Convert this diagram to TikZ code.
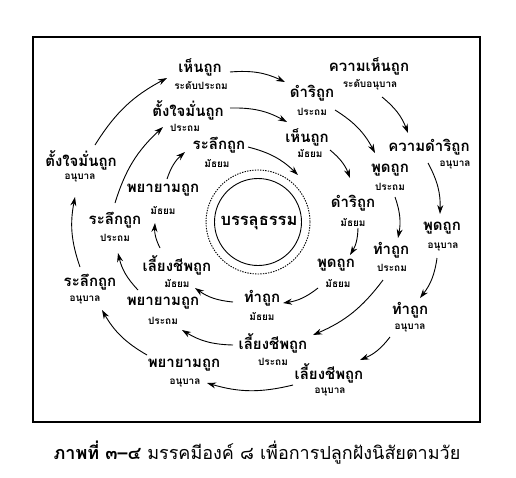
\documentclass[tikz,border=0pt]{standalone}
\usepackage{fontspec}
\newfontfamily\thai[Script=Thai]{Loma}
\usetikzlibrary{arrows.meta,calc}
\begin{document}
\begin{tikzpicture}[x=1pt,y=-1pt,
  mainlbl/.style={font=\thai\bfseries\fontsize{15}{17}\selectfont, inner sep=0pt},
  sublbl/.style={font=\thai\bfseries\fontsize{10}{12}\selectfont, inner sep=0pt},
  arr/.style={-{Stealth[length=9pt,width=6pt]}, line width=0.9pt, bend left=15}]
\useasboundingbox (0,0) rectangle (516,477);
\draw[line width=1.2pt] (33,37) rectangle (480,422);
% centre
\node[mainlbl, font=\thai\bfseries\fontsize{16.5}{18}\selectfont] (c) at (259,223) {บรรลุธรรม};
\draw[line width=0.9pt] (c) ++(-1,-1) circle[radius=43.5];
\draw[line width=0.9pt, dash pattern=on 1.4pt off 1.2pt] (c) ++(-1,-1) circle[radius=52];
% outer ring
\node[mainlbl] (a1) at (369,66) {ความเห็นถูก};   \node[sublbl] (a1s) at (370,85) {ระดับอนุบาล};
\node[mainlbl] (a2) at (429,147) {ความดำริถูก};  \node[sublbl] (a2s) at (455,165) {อนุบาล};
\node[mainlbl] (a3) at (442,228) {พูดถูก};        \node[sublbl] (a3s) at (443,247) {อนุบาล};
\node[mainlbl] (a4) at (410,310) {ทำถูก};         \node[sublbl] (a4s) at (410,328) {อนุบาล};
\node[mainlbl] (a5) at (329,373) {เลี้ยงชีพถูก};   \node[sublbl] (a5s) at (330,392) {อนุบาล};
\node[mainlbl] (a6) at (184,365) {พยายามถูก};     \node[sublbl] (a6s) at (185,383) {อนุบาล};
\node[mainlbl] (a7) at (90,282) {ระลึกถูก};        \node[sublbl] (a7s) at (85,300) {อนุบาล};
\node[mainlbl] (a8) at (81,160) {ตั้งใจมั่นถูก};   \node[sublbl] (a8s) at (80,178) {อนุบาล};
% middle ring
\node[mainlbl] (p1) at (200,67) {เห็นถูก};         \node[sublbl] (p1s) at (201,85) {ระดับประถม};
\node[mainlbl] (p2) at (312,93) {ดำริถูก};         \node[sublbl] (p2s) at (312,112) {ประถม};
\node[mainlbl] (p3) at (390,170) {พูดถูก};         \node[sublbl] (p3s) at (390,187) {ประถม};
\node[mainlbl] (p4) at (391,250) {ทำถูก};          \node[sublbl] (p4s) at (392,268) {ประถม};
\node[mainlbl] (p5) at (273,343) {เลี้ยงชีพถูก};    \node[sublbl] (p5s) at (273,362) {ประถม};
\node[mainlbl] (p6) at (163,303) {พยายามถูก};      \node[sublbl] (p6s) at (163,321) {ประถม};
\node[mainlbl] (p7) at (115,220) {ระลึกถูก};        \node[sublbl] (p7s) at (115,238) {ประถม};
\node[mainlbl] (p8) at (188,110) {ตั้งใจมั่นถูก};   \node[sublbl] (p8s) at (185,128) {ประถม};
% inner ring
\node[mainlbl] (m1) at (307,137) {เห็นถูก};         \node[sublbl] (m1s) at (310,153) {มัธยม};
\node[mainlbl] (m2) at (353,203) {ดำริถูก};         \node[sublbl] (m2s) at (353,222) {มัธยม};
\node[mainlbl] (m3) at (336,265) {พูดถูก};          \node[sublbl] (m3s) at (338,283) {มัธยม};
\node[mainlbl] (m4) at (262,298) {ทำถูก};           \node[sublbl] (m4s) at (262,316) {มัธยม};
\node[mainlbl] (m5) at (177,265) {เลี้ยงชีพถูก};     \node[sublbl] (m5s) at (177,283) {มัธยม};
\node[mainlbl] (m6) at (163,190) {พยายามถูก};       \node[sublbl] (m6s) at (163,210) {มัธยม};
\node[mainlbl] (m7) at (219,145) {ระลึกถูก};         \node[sublbl] (m7s) at (217,163) {มัธยม};
% arrows outer
\draw[arr] ($(a1)+(13,31)$) to ($(a2)+(-21,-14)$);
\draw[arr] ($(a2)+(-1,16)$) to ($(a3)+(-2,-14)$);
\draw[arr] ($(a3)+(-5,30)$) to ($(a4)+(10,-12)$);
\draw[arr] ($(a4)+(-20,27)$) to ($(a5)+(31,-13)$);
\draw[arr] ($(a5)+(-36,12)$) to ($(a6)+(23,18)$);
\draw[arr] ($(a6)+(-37,-10)$) to ($(a7)+(12,28)$);
\draw[arr] ($(a7)+(-10,-15)$) to ($(a8)+(-6,37)$);
\draw[arr] ($(a8)+(14,-15)$) to ($(p1)+(-33,11)$);
% arrows middle
\draw[arr] ($(p1)+(30,5)$) to ($(p2)+(-27,-11)$);
\draw[arr] ($(p2)+(23,17)$) to ($(p3)+(-15,-17)$);
\draw[arr] ($(p3)+(5,27)$) to ($(p4)+(7,-12)$);
\draw[arr] ($(p4)+(-8,30)$) to ($(p5)+(40,-8)$);
\draw[arr] ($(p5)+(-40,2)$) to ($(p6)+(19,27)$);
\draw[arr] ($(p6)+(-25,-13)$) to ($(p7)+(3,33)$);
\draw[arr] ($(p7)+(0,-17)$) to ($(p8)+(-25,17)$);
\draw[arr] ($(p8)+(42,-2)$) to ($(m1)+(-20,-15)$);
% arrows inner
\draw[arr] ($(m1)+(23,13)$) to ($(m2)+(-3,-25)$);
\draw[arr] ($(m2)+(5,25)$) to ($(m3)+(14,-10)$);
\draw[arr] ($(m3)+(-18,23)$) to ($(m4)+(21,5)$);
\draw[arr] ($(m4)+(-29,4)$) to ($(m5)+(18,23)$);
\draw[arr] ($(m5)+(-17,-17)$) to ($(m6)+(-8,33)$);
\draw[arr] ($(m6)+(4,-11)$) to ($(m7)+(-34,7)$);
\draw[arr] ($(m7)+(29,2)$) to ($(c)+(39,-48)$);
% caption
\node[font=\thai\fontsize{18}{20}\selectfont, inner sep=0pt] (cap) at (257,453) {\textbf{ภาพที่ ๓–๔} มรรคมีองค์ ๘ เพื่อการปลูกฝังนิสัยตามวัย};
\end{tikzpicture}
\end{document}
